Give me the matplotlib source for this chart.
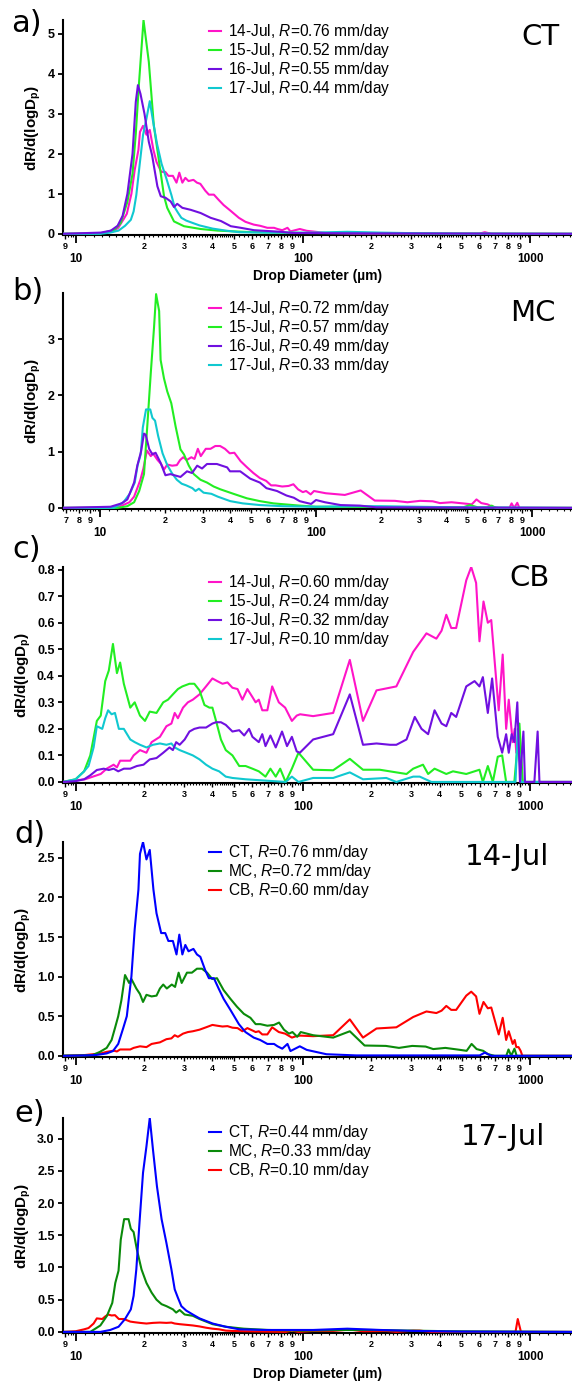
# Drop size distributions (dR/dlogDp) for CT, MC and CB sites, 14-17 Jul
import numpy as np
import matplotlib
matplotlib.use('Agg')
import matplotlib.pyplot as plt
from matplotlib.ticker import FixedLocator, FuncFormatter, NullLocator

plt.rcParams['font.family'] = ['Liberation Sans', 'DejaVu Sans']
plt.rcParams['font.weight'] = 'bold'
plt.rcParams['mathtext.fontset'] = 'custom'
plt.rcParams['mathtext.rm'] = 'Liberation Sans:normal'
plt.rcParams['mathtext.it'] = 'Liberation Sans:italic:normal'
plt.rcParams['mathtext.bf'] = 'Liberation Sans:bold'

dates = ['14-Jul', '15-Jul', '16-Jul', '17-Jul']
ct_rates = [0.76, 0.52, 0.55, 0.44]
mc_rates = [0.72, 0.57, 0.49, 0.33]
cb_rates = [0.60, 0.24, 0.32, 0.10]

# ---- CT ----
ct14_x = [8.8, 11.0, 12.3, 13.7, 14.6, 15.4, 16.2, 16.8, 17.6, 18.2,
          18.9, 19.2, 19.8, 20.5, 21.2, 22.0, 22.7, 23.8, 24.8, 25.6,
          26.8, 27.8, 28.6, 29.5, 30.4, 31.4, 33.0, 34.2, 35.4, 37.2,
          38.6, 40.6, 42.6, 44.8, 48.0, 52.3, 55.9, 60.8, 64.9, 69.8,
          74.7, 77.4, 81.2, 85.6, 88.2, 97.0, 104, 127, 172, 600,
          632, 676, 1600]
ct14_y = [0, 0.005, 0.01, 0.03, 0.06, 0.15, 0.35, 0.5, 1.0, 1.6,
          2.1, 2.55, 2.7, 2.48, 2.6, 2.1, 1.8, 1.55, 1.55, 1.45,
          1.45, 1.28, 1.53, 1.28, 1.4, 1.32, 1.35, 1.28, 1.25, 1.08,
          0.98, 0.98, 0.85, 0.72, 0.58, 0.4, 0.3, 0.23, 0.2, 0.15,
          0.15, 0.12, 0.09, 0.15, 0.06, 0.12, 0.075, 0.02, 0.005, 0.005,
          0.04, 0, 0]

ct15_x = [8.8, 12.9, 14.8, 15.8, 16.9, 17.8, 18.4, 19.0, 19.9, 21.0,
          22.1, 22.9, 24.5, 25.3, 27.1, 30.0, 35.5, 42.1, 50, 60,
          80, 100, 200, 400, 1600]
ct15_y = [0, 0.01, 0.1, 0.27, 0.8, 1.5, 2.5, 3.75, 5.35, 4.3,
          2.7, 2.1, 0.94, 0.65, 0.31, 0.19, 0.12, 0.08, 0.06, 0.04,
          0.03, 0.02, 0.015, 0.005, 0]

ct16_x = [8.8, 12.9, 14.3, 15.3, 16.1, 16.9, 17.8, 18.4, 18.8, 19.3,
          20.1, 21.0, 21.7, 22.9, 23.7, 24.9, 26.2, 27.1, 28.0, 29.5,
          32.1, 35.5, 39.3, 43.6, 48.2, 53.3, 61, 70, 80, 90,
          200, 1600]
ct16_y = [0, 0.03, 0.08, 0.2, 0.45, 1.0, 2.0, 3.3, 3.72, 3.5,
          3.0, 2.3, 1.97, 1.19, 0.94, 0.9, 0.81, 0.67, 0.75, 0.65,
          0.6, 0.52, 0.4, 0.32, 0.19, 0.15, 0.09, 0.07, 0.05, 0.02,
          0.01, 0]

ct17_x = [8.8, 12.85, 14.2, 15.45, 16.5, 17.5, 18.0, 18.5, 19.1, 19.8,
          20.5, 21.2, 21.9, 22.8, 23.9, 25.1, 26.4, 27.3, 28.2, 29.2,
          30.7, 32.8, 35.1, 40.1, 45.8, 52.5, 68.5, 111, 157, 220,
          309, 500, 1600]
ct17_y = [0, 0, 0.03, 0.08, 0.2, 0.35, 0.56, 0.97, 1.69, 2.47,
          2.88, 3.32, 2.83, 2.26, 1.75, 1.38, 0.97, 0.66, 0.53, 0.4,
          0.33, 0.27, 0.21, 0.13, 0.08, 0.04, 0.03, 0.03, 0.05, 0.03,
          0.015, 0.005, 0]

# ---- MC ----
mc14_x = [6.7, 10.5, 11.9, 12.8, 13.7, 14.4, 14.9, 15.4, 15.9, 16.5,
          17.2, 17.6, 18.5, 19.2, 19.8, 20.5, 21.6, 22.7, 23.5, 24.3,
          25.2, 26.5, 27.4, 28.4, 29.3, 30.9, 32.5, 34.2, 36.0, 37.9,
          39.9, 41.9, 44.8, 48.0, 51.3, 55.0, 58.8, 62.0, 65.0, 69.8,
          74.7, 78.6, 82.6, 86.9, 90.0, 94.5, 97.9, 111, 136, 161,
          187, 232, 265, 303, 347, 375, 424, 492, 526, 553,
          582, 622, 654, 699, 786, 804, 826, 854, 873, 1600]
mc14_y = [0, 0.005, 0.01, 0.05, 0.1, 0.2, 0.35, 0.5, 0.7, 1.02,
          0.92, 0.97, 0.85, 0.78, 0.68, 0.77, 0.75, 0.76, 0.85, 0.9,
          0.85, 0.9, 0.87, 1.05, 0.92, 1.05, 1.05, 1.1, 1.1, 1.05,
          0.97, 0.98, 0.83, 0.72, 0.62, 0.53, 0.48, 0.4, 0.4, 0.38,
          0.39, 0.42, 0.33, 0.28, 0.3, 0.24, 0.3, 0.26, 0.23, 0.31,
          0.13, 0.125, 0.1, 0.125, 0.117, 0.085, 0.1, 0.075, 0.063, 0.15,
          0.085, 0.063, 0.02, 0, 0, 0.08, 0, 0.09, 0, 0]

mc15_x = [6.7, 12.1, 13.4, 14.4, 15.2, 16.0, 16.6, 17.2, 17.8, 18.2,
          18.8, 19.1, 19.8, 20.5, 21.4, 22.4, 23.6, 24.5, 25.8, 27.2,
          29.2, 31.3, 33.6, 36.1, 41.5, 47.9, 55, 63.6, 73, 84,
          100, 480, 516, 560, 620, 650, 680, 1600]
mc15_y = [0, 0.0, 0.03, 0.1, 0.3, 0.6, 1.5, 2.4, 3.2, 3.8,
          3.5, 2.63, 2.3, 2.07, 1.86, 1.45, 1.04, 0.95, 0.75, 0.6,
          0.5, 0.45, 0.38, 0.33, 0.25, 0.17, 0.12, 0.08, 0.06, 0.04,
          0.02, 0.01, 0.05, 0.01, 0.01, 0.04, 0, 0]

mc16_x = [6.7, 11.2, 12.6, 13.4, 14.4, 14.9, 15.5, 16.0, 16.3, 16.9,
          17.5, 18.1, 19.1, 20.1, 21.2, 23.6, 25.3, 26.7, 28.2, 29.7,
          31.3, 34.8, 36.7, 38.8, 40.0, 44.6, 49.6, 55, 59, 66,
          73, 79, 84, 88, 95, 100, 110, 130, 160, 190,
          1600]
mc16_y = [0, 0.02, 0.08, 0.15, 0.45, 0.75, 1.0, 1.32, 1.3, 1.05,
          0.95, 0.98, 0.8, 0.58, 0.6, 0.55, 0.65, 0.62, 0.75, 0.7,
          0.78, 0.78, 0.75, 0.72, 0.65, 0.65, 0.52, 0.45, 0.35, 0.3,
          0.22, 0.18, 0.12, 0.1, 0.07, 0.14, 0.1, 0.05, 0.04, 0.01,
          0]

mc17_x = [6.7, 11.6, 12.85, 13.74, 14.5, 14.95, 15.45, 15.8, 16.35, 17.1,
          17.5, 18.0, 18.6, 19.5, 20.5, 21.6, 22.7, 23.9, 25.1, 26.8,
          27.7, 28.7, 30.2, 32.8, 35.1, 40.1, 45.8, 55, 70, 100,
          150, 200, 300, 450, 1600]
mc17_y = [0, 0, 0.1, 0.25, 0.45, 0.76, 0.95, 1.43, 1.75, 1.75,
          1.6, 1.55, 1.28, 0.97, 0.76, 0.61, 0.5, 0.43, 0.4, 0.35,
          0.3, 0.34, 0.27, 0.25, 0.2, 0.12, 0.08, 0.05, 0.03, 0.02,
          0.03, 0.03, 0.02, 0.01, 0]

# ---- CB ----
cb14_x = [8.8, 11.0, 12.9, 13.7, 14.7, 15.2, 15.7, 17.4, 18.0, 19.2,
          20.5, 21.6, 23.5, 25.1, 26.4, 27.3, 28.2, 29.7, 31.2, 32.8,
          35.1, 37.5, 40.0, 42.0, 44.3, 46.6, 49.0, 51.6, 54.2, 57.0,
          60.0, 62.0, 64.0, 66.3, 69.8, 73.3, 78.4, 83.6, 89.5, 94.0,
          97.3, 111, 136, 161, 184, 211, 258, 306, 350, 387,
          408, 428, 450, 473, 524, 551, 579, 599, 624, 652,
          675, 728, 758, 785, 806, 839, 856, 870, 890, 910,
          925, 1600]
cb14_y = [0, 0.01, 0.03, 0.05, 0.065, 0.055, 0.08, 0.08, 0.1, 0.12,
          0.11, 0.15, 0.17, 0.21, 0.22, 0.26, 0.24, 0.28, 0.3, 0.31,
          0.33, 0.36, 0.39, 0.38, 0.37, 0.375, 0.355, 0.35, 0.31, 0.35,
          0.32, 0.3, 0.31, 0.27, 0.27, 0.36, 0.3, 0.28, 0.23, 0.25,
          0.255, 0.248, 0.26, 0.46, 0.23, 0.345, 0.36, 0.49, 0.56, 0.54,
          0.57, 0.63, 0.58, 0.58, 0.76, 0.81, 0.75, 0.53, 0.68, 0.6,
          0.61, 0.27, 0.48, 0.2, 0.31, 0.15, 0.2, 0.11, 0.11, 0.06,
          0, 0]

cb15_x = [8.8, 10.0, 10.9, 11.6, 12.4, 12.9, 13.5, 14.0, 14.6, 15.2,
          15.7, 16.3, 17.4, 18.2, 19.2, 20.2, 21.2, 22.7, 24.3, 25.5,
          26.8, 28.2, 29.5, 31.7, 33.3, 35.1, 36.9, 38.8, 40.0, 41.5,
          43.6, 45.8, 49.0, 52.5, 56.0, 60.0, 64.0, 68.5, 72.0, 76.0,
          79.5, 84.0, 89.5, 95.7, 111, 136, 161, 184, 218, 258,
          286, 306, 338, 356, 380, 428, 458, 524, 599, 620,
          652, 686, 721, 754, 785, 853, 898, 929, 1600]
cb15_y = [0, 0.01, 0.04, 0.1, 0.23, 0.25, 0.38, 0.42, 0.52, 0.41,
          0.45, 0.37, 0.28, 0.3, 0.25, 0.23, 0.265, 0.26, 0.3, 0.31,
          0.33, 0.35, 0.36, 0.37, 0.37, 0.345, 0.29, 0.28, 0.28, 0.23,
          0.16, 0.12, 0.1, 0.06, 0.06, 0.05, 0.04, 0.02, 0.05, 0.02,
          0.05, 0.0, 0.05, 0.11, 0.046, 0.044, 0.087, 0.046, 0.046, 0.036,
          0.03, 0.05, 0.065, 0.03, 0.05, 0.03, 0.04, 0.03, 0.046, 0.0,
          0.06, 0.0, 0.095, 0.1, 0.0, 0.0, 0.22, 0.0, 0]

cb16_x = [8.8, 10.0, 10.9, 11.6, 12.4, 13.3, 14.0, 14.7, 15.4, 16.3,
          17.4, 18.6, 19.9, 21.2, 22.7, 24.3, 25.9, 26.8, 27.7, 28.7,
          30.2, 31.7, 33.3, 35.1, 37.5, 40.0, 41.5, 43.6, 45.8, 49.0,
          52.5, 55.2, 58.0, 60.0, 64.0, 66.3, 68.5, 72.0, 76.0, 81.0,
          85.2, 89.5, 94.0, 97.0, 111, 136, 161, 184, 211, 242,
          258, 286, 311, 333, 356, 380, 408, 428, 450, 473,
          524, 570, 599, 620, 652, 681, 721, 754, 785, 806,
          830, 853, 879, 903, 935, 950, 1045, 1080, 1100, 1600]
cb16_y = [0, 0.003, 0.01, 0.025, 0.045, 0.05, 0.045, 0.05, 0.04, 0.05,
          0.05, 0.06, 0.065, 0.085, 0.09, 0.11, 0.13, 0.12, 0.15, 0.14,
          0.16, 0.19, 0.2, 0.205, 0.205, 0.22, 0.225, 0.225, 0.215, 0.19,
          0.195, 0.175, 0.2, 0.17, 0.15, 0.18, 0.135, 0.175, 0.13, 0.19,
          0.135, 0.17, 0.115, 0.11, 0.16, 0.18, 0.33, 0.14, 0.145, 0.14,
          0.14, 0.16, 0.245, 0.2, 0.18, 0.27, 0.22, 0.21, 0.26, 0.245,
          0.36, 0.38, 0.36, 0.395, 0.26, 0.39, 0.17, 0.11, 0.18, 0.11,
          0.18, 0.15, 0.3, 0.0, 0.19, 0.0, 0.0, 0.19, 0.0, 0]

cb17_x = [8.8, 10.0, 10.9, 11.4, 12.0, 12.4, 13.1, 13.5, 13.9, 14.4,
          14.9, 15.5, 16.3, 17.4, 18.2, 19.2, 20.5, 21.9, 23.5, 25.1,
          26.4, 27.3, 28.7, 30.7, 32.8, 35.1, 37.5, 40.0, 42.8, 45.8,
          49.0, 56.0, 68.5, 84.0, 89.5, 95.7, 111, 136, 161, 184,
          233, 258, 306, 327, 368, 863, 883, 912, 1600]
cb17_y = [0, 0.01, 0.04, 0.06, 0.13, 0.21, 0.2, 0.24, 0.27, 0.255,
          0.26, 0.2, 0.2, 0.16, 0.15, 0.14, 0.13, 0.14, 0.145, 0.14,
          0.145, 0.13, 0.12, 0.11, 0.1, 0.085, 0.065, 0.05, 0.04, 0.02,
          0.015, 0.01, 0.005, 0.0, 0.02, 0.0, 0.015, 0.015, 0.036, 0.01,
          0.015, 0.0, 0.02, 0.02, 0.0, 0.0, 0.2, 0.0, 0]

ct_series = [(ct14_x, ct14_y), (ct15_x, ct15_y), (ct16_x, ct16_y), (ct17_x, ct17_y)]
mc_series = [(mc14_x, mc14_y), (mc15_x, mc15_y), (mc16_x, mc16_y), (mc17_x, mc17_y)]
cb_series = [(cb14_x, cb14_y), (cb15_x, cb15_y), (cb16_x, cb16_y), (cb17_x, cb17_y)]

date_colors = ['#ff14c8', '#22ee22', '#7010e0', '#10c8d0']
site_colors = ['#0000ff', '#0a8a0a', '#ff0000']

W, H = 572, 1384
AX_LEFT = 63
AX_TOPS = [20, 293, 567, 842, 1118]
AX_BOTS = [235, 509, 783, 1057, 1333]


def px_to_fig(x, y):
    return x / W, 1 - y / H


def fine_ticks():
    # small ruler-like ticks between the labelled minor ticks
    ticks = []
    for dec in (1, 10, 100, 1000):
        for m in range(1, 10):
            step = 0.1 if m < 5 else 0.25
            k = m + step
            while k < m + 1 - 1e-6:
                ticks.append(k * dec)
                k += step
    return ticks


def style_axes(ax, xlim, ylim, yticks, yfmt):
    ax.set_xscale('log')
    ax.set_xlim(*xlim)
    ax.set_ylim(*ylim)
    for side in ['top', 'right']:
        ax.spines[side].set_visible(False)
    for side in ['left', 'bottom']:
        ax.spines[side].set_linewidth(1.5)
    ax.xaxis.set_major_locator(FixedLocator([10, 100, 1000]))
    ax.xaxis.set_major_formatter(FuncFormatter(lambda v, p: f'{v:.0f}'))
    minors = [m * d for d in (1, 10, 100, 1000) for m in range(2, 10)]
    ax.xaxis.set_minor_locator(FixedLocator(minors))
    ax.xaxis.set_minor_formatter(
        FuncFormatter(lambda v, p: str(int(round(v / 10 ** np.floor(np.log10(v) + 1e-9))))))
    ax.tick_params(axis='x', which='major', direction='out', length=5.8, width=1.3,
                   pad=7.0, labelsize=8.5)
    ax.tick_params(axis='x', which='minor', direction='out', length=2.9, width=1.0,
                   pad=2.0, labelsize=6.5)
    sec = ax.secondary_xaxis('bottom')
    sec.spines['bottom'].set_visible(False)
    sec.xaxis.set_major_locator(FixedLocator(fine_ticks()))
    sec.xaxis.set_major_formatter(FuncFormatter(lambda v, p: ''))
    sec.xaxis.set_minor_locator(NullLocator())
    sec.tick_params(axis='x', which='major', direction='out', length=1.6, width=0.8)
    ax.set_yticks(yticks)
    ax.yaxis.set_major_formatter(FuncFormatter(lambda v, p: yfmt.format(v)))
    ax.tick_params(axis='y', which='major', direction='out', length=3.6, width=1.3,
                   pad=2.5, labelsize=9)
    ax.yaxis.set_minor_locator(FixedLocator([]))
    ax.set_ylabel(r'dR/d(logD$_{\mathbf{p}}$)', fontsize=11, fontweight='bold', labelpad=3)


def add_legend(ax, labels, handles, top_px):
    x0, y0 = px_to_fig(209, top_px)
    ax.legend(handles, labels, loc='upper left', bbox_to_anchor=(x0, y0),
              bbox_transform=fig.transFigure, frameon=False, handlelength=0.75,
              handletextpad=0.45, labelspacing=0.0, borderpad=0, borderaxespad=0,
              prop={'family': 'Liberation Sans', 'weight': 'normal', 'size': 11.2})


fig = plt.figure(figsize=(W / 100, H / 100), dpi=100)
axes = []
for top, bot in zip(AX_TOPS, AX_BOTS):
    l, b = px_to_fig(AX_LEFT, bot)
    axes.append(fig.add_axes([l, b, 1 - l, (bot - top) / H]))

site_panels = [
    (axes[0], ct_series, ct_rates, (8.8, 1530), (-0.03, 5.35), range(0, 6), '{:.0f}'),
    (axes[1], mc_series, mc_rates, (6.75, 1530), (-0.02, 3.82), range(0, 4), '{:.0f}'),
    (axes[2], cb_series, cb_rates, (8.8, 1530), (-0.004, 0.81), np.arange(0, 0.81, 0.1), '{:.1f}'),
]
legend_info = []
for ax, series, rates, xlim, ylim, yticks, yfmt in site_panels:
    order = [0, 1, 3, 2]
    lines = {}
    for i in order:
        xs, ys = series[i]
        lines[i], = ax.plot(xs, ys, color=date_colors[i], lw=1.5, zorder=3 + order.index(i))
    handles = [lines[i] for i in range(4)]
    labels = [f'{dates[i]}, $R$={rates[i]:.2f} mm/day' for i in range(4)]
    style_axes(ax, xlim, ylim, yticks, yfmt)
    legend_info.append((labels, handles))

date_panels = [
    (axes[3], 0, (8.8, 1530), (-0.015, 2.7), np.arange(0, 2.6, 0.5)),
    (axes[4], 3, (8.8, 1530), (-0.017, 3.32), np.arange(0, 3.1, 0.5)),
]
sites = ['CT', 'MC', 'CB']
all_series = [ct_series, mc_series, cb_series]
all_rates = [ct_rates, mc_rates, cb_rates]
for ax, di, xlim, ylim, yticks in date_panels:
    handles = []
    labels = []
    for si in range(3):
        xs, ys = all_series[si][di]
        ln, = ax.plot(xs, ys, color=site_colors[si], lw=1.5, zorder=6 - si)
        handles.append(ln)
        labels.append(f'{sites[si]}, $R$={all_rates[si][di]:.2f} mm/day')
    style_axes(ax, xlim, ylim, yticks, '{:.1f}')
    legend_info.append((labels, handles))

legend_tops = [22, 299, 573, 843, 1123]
for ax, top, (labels, handles) in zip(axes, legend_tops, legend_info):
    add_legend(ax, labels, handles, top)

for ax in (axes[0], axes[4]):
    ax.set_xlabel('Drop Diameter (µm)', fontsize=10, fontweight='bold', labelpad=3)

# big site / date names
names = ['CT', 'MC', 'CB', '14-Jul', '17-Jul']
name_pos = [(540, 37), (533, 313), (530, 578), (507, 857), (503, 1137)]
for name, (x, y) in zip(names, name_pos):
    fx, fy = px_to_fig(x, y)
    fig.text(fx, fy, name, ha='center', va='center', fontsize=21,
             family='DejaVu Sans', weight='normal')

letters = ['a)', 'b)', 'c)', 'd)', 'e)']
letter_pos = [(11, 32), (12, 300), (12, 558), (14, 843), (14, 1122)]
for letter, (x, y) in zip(letters, letter_pos):
    fx, fy = px_to_fig(x, y)
    fig.text(fx, fy, letter, ha='left', va='baseline', fontsize=22,
             family='DejaVu Sans', weight='normal')

fig.savefig('out.png', dpi=100)
